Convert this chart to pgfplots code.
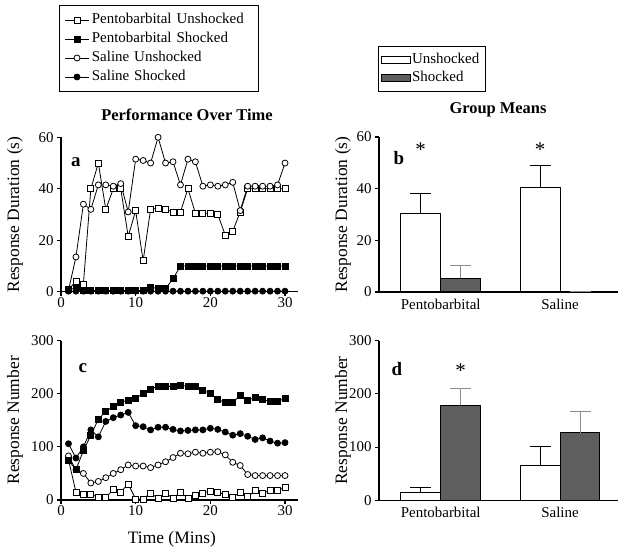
\documentclass[border=0pt]{standalone}
\usepackage{pgfplots}
\pgfplotsset{compat=1.18}
\usepackage{fontspec}
\setmainfont{Liberation Serif}
\definecolor{bargray}{HTML}{5E5E5E}
\definecolor{errgray}{HTML}{8C8C8C}

\pgfplotstableread{
x PU PS SU SS
1 0.8 1 0.5 0.2
2 4 1.2 13.5 0.2
3 3 0.5 34 0.2
4 40 0.5 32 0.2
5 50 0.5 41.5 0.2
6 32 0.5 41.5 0.2
7 40 0.5 41 0.2
8 40 0.5 42 0.2
9 21.5 0.5 31 0.2
10 31.5 0.5 51.5 0.2
11 12 0.5 51 0.2
12 32 1.8 50 0.2
13 32.5 1.2 60 0.2
14 32 1.2 50 0.2
15 31 5 50.5 0.2
16 31 10 41.5 0.2
17 40 10 51.5 0.2
18 30.5 10 50.5 0.2
19 30.5 10 41 0.2
20 30.5 10 41.5 0.2
21 30 10 41 0.2
22 22 10 41.5 0.2
23 23.5 10 42.5 0.2
24 31 10 31.5 0.2
25 40 10 41 0.2
26 40 10 41 0.2
27 40 10 41 0.2
28 40 10 41 0.2
29 40 10 41.5 0.2
30 40 10 50 0.2
}\durtable

\pgfplotstableread{
x PU PS SU SS
1 76 75 83 106
2 15 57 57 79
3 10 93 50 100
4 11 122 32 132
5 5 152 35 119
6 5 167 42 148
7 20 176 50 155
8 15 184 57 160
9 30 188 66 165
10 2 191 64 140
11 2 201 64 138
12 13 209 61 132
13 3 214 66 137
14 13 214 72 137
15 3 214 80 133
16 15 216 88 130
17 3 214 87 131
18 9 214 90 132
19 13 206 88 132
20 17 201 90 135
21 15 189 91 133
22 10 184 85 128
23 5 184 71 122
24 15 197 65 125
25 6 188 48 120
26 18 193 46 114
27 13 189 46 117
28 18 186 46 111
29 18 186 46 107
30 24 191 46 108
}\numtable

\pgfplotsset{
  panel/.style={
    scale only axis,
    axis lines=left,
    axis line style={-, line width=1.1bp},
    tick style={black, line width=1.1bp},
    major tick length=4bp,
    tick align=outside,
    tick pos=left,
    /pgf/number format/assume math mode=true,
    ticklabel style={font=\fontsize{15}{17}\selectfont},
    xticklabel style={inner sep=1.5bp},
    label style={font=\fontsize{17.5}{20}\selectfont},
    clip=false,
  },
  lp/.style={black, line width=0.8bp, mark size=3bp, mark options={solid, line width=0.8bp}},
  lpopen/.style={lp, mark options={solid, line width=0.8bp, fill=white}},
  linelegend/.style={
    legend image code/.code={\draw[mark repeat=2,mark phase=2,##1] plot coordinates {(0bp,0bp)(12bp,0bp)(24bp,0bp)};}},
  barlegend/.style={
    legend image code/.code={\draw[##1,/tikz/.cd,line width=1bp] (0bp,-3.7bp) rectangle (29bp,3.7bp);}},
  barplot/.style={ybar, bar width=0.335, bar shift=0pt, line width=1bp, draw=black,
    error bars/y dir=plus, error bars/y explicit,
    error bars/error bar style={line width=1bp, #1},
    error bars/error mark options={rotate=90, mark size=10.5bp, line width=1bp, #1}},
}

\begin{document}
\begin{tikzpicture}
\path[use as bounding box] (0bp,0bp) rectangle (624bp,552bp);

% ---------- panel a
\begin{axis}[panel, width=237bp, height=154.4bp, at={(61bp,260.3bp)}, anchor=south west,
  xmin=0, xmax=31.74, ymin=0, ymax=60,
  xtick={0,10,20,30}, ytick={0,20,40,60},
  ylabel={Response Duration (s)},
  ylabel style={at={(axis description cs:-0.194,0.5)}, anchor=center},
  linelegend,
  legend style={at={(axis description cs:-0.008,1.857)}, anchor=north west,
    draw=black, line width=1bp, font=\fontsize{15}{17}\selectfont,
    inner xsep=5bp, inner ysep=5bp,
    nodes={text height=10.5bp, text depth=3.5bp, inner ysep=2.5bp, inner xsep=2.5bp},
    /tikz/every even column/.append style={text width=159bp}},
  legend cell align=left,
]
\addplot[lpopen, mark=square*] table[x=x,y=PU] {\durtable};
\addlegendentry{Pentobarbital Unshocked}
\addplot[lp, mark=square*] table[x=x,y=PS] {\durtable};
\addlegendentry{Pentobarbital Shocked}
\addplot[lpopen, mark=*] table[x=x,y=SU] {\durtable};
\addlegendentry{Saline Unshocked}
\addplot[lp, mark=*] table[x=x,y=SS] {\durtable};
\addlegendentry{Saline Shocked}
\node[anchor=base west, font=\bfseries\fontsize{19}{21}\selectfont] at (axis description cs:0.028,0.81) {a};
\end{axis}

% ---------- panel c
\begin{axis}[panel, width=237bp, height=159.3bp, at={(61bp,52bp)}, anchor=south west,
  xmin=0, xmax=31.74, ymin=0, ymax=300,
  xtick={0,10,20,30}, ytick={0,100,200,300},
  ylabel={Response Number},
  ylabel style={at={(axis description cs:-0.194,0.5)}, anchor=center},
  xlabel={Time (Mins)},
  xlabel style={at={(axis description cs:0.468,-0.245)}, anchor=center},
]
\addplot[lpopen, mark=square*] table[x=x,y=PU] {\numtable};
\addplot[lpopen, mark=*] table[x=x,y=SU] {\numtable};
\addplot[lp, mark=*] table[x=x,y=SS] {\numtable};
\addplot[lp, mark=square*] table[x=x,y=PS] {\numtable};
\node[anchor=base west, font=\bfseries\fontsize{19}{21}\selectfont] at (axis description cs:0.059,0.8) {c};
\end{axis}

% ---------- panel b
\begin{axis}[panel, width=239bp, height=155bp, at={(379bp,260bp)}, anchor=south west,
  xmin=-0.517, xmax=1.486, ymin=0, ymax=60,
  xtick={0,1}, xticklabels={Pentobarbital,Saline}, major x tick style={draw=none},
  xticklabel style={inner sep=3bp},
  ytick={0,20,40,60},
  ylabel={Response Duration (s)},
  ylabel style={at={(axis description cs:-0.151,0.5)}, anchor=center},
  legend style={at={(axis description cs:-0.004,1.587)}, anchor=north west,
    draw=black, line width=1bp, font=\fontsize{15}{17}\selectfont,
    inner xsep=2bp, inner ysep=4.5bp,
    nodes={text height=10.5bp, text depth=3.5bp, inner ysep=2bp, inner xsep=1.5bp},
    /tikz/every even column/.append style={text width=70bp}},
  legend cell align=left,
]
\addplot[barplot=black, fill=white, barlegend] coordinates {(-0.1675,30.5) +- (0,7.8) (0.8325,40.5) +- (0,8.5)};
\addlegendentry{Unshocked}
\addplot[barplot=errgray, fill=bargray, barlegend] coordinates {(0.1675,5.3) +- (0,4.8) (1.1675,0.3) +- (0,0)};
\addlegendentry{Shocked}
\node[anchor=base west, font=\bfseries\fontsize{19}{21}\selectfont] at (axis description cs:0.046,0.82) {b};
\node[font=\fontsize{21}{23}\selectfont] at (axis cs:-0.1675,55) {*};
\node[font=\fontsize{21}{23}\selectfont] at (axis cs:0.8325,55) {*};
\end{axis}

% ---------- panel d
\begin{axis}[panel, width=239bp, height=159.6bp, at={(379bp,51.7bp)}, anchor=south west,
  xmin=-0.517, xmax=1.486, ymin=0, ymax=300,
  xtick={0,1}, xticklabels={Pentobarbital,Saline}, major x tick style={draw=none},
  xticklabel style={inner sep=3bp},
  ytick={0,100,200,300},
  ylabel={Response Number},
  ylabel style={at={(axis description cs:-0.151,0.5)}, anchor=center},
]
\addplot[barplot=black, fill=white] coordinates {(-0.1675,15) +- (0,9) (0.8325,64.5) +- (0,36.5)};
\addplot[barplot=errgray, fill=bargray] coordinates {(0.1675,179) +- (0,32) (1.1675,127) +- (0,39.5)};
\node[anchor=base west, font=\bfseries\fontsize{19}{21}\selectfont] at (axis description cs:0.038,0.785) {d};
\node[font=\fontsize{21}{23}\selectfont] at (axis cs:0.1675,243) {*};
\end{axis}

\node[font=\bfseries\fontsize{16.5}{18}\selectfont] at (187bp,437bp) {Performance Over Time};
\node[font=\bfseries\fontsize{16.5}{18}\selectfont] at (498bp,442bp) {Group Means};
\end{tikzpicture}
\end{document}
